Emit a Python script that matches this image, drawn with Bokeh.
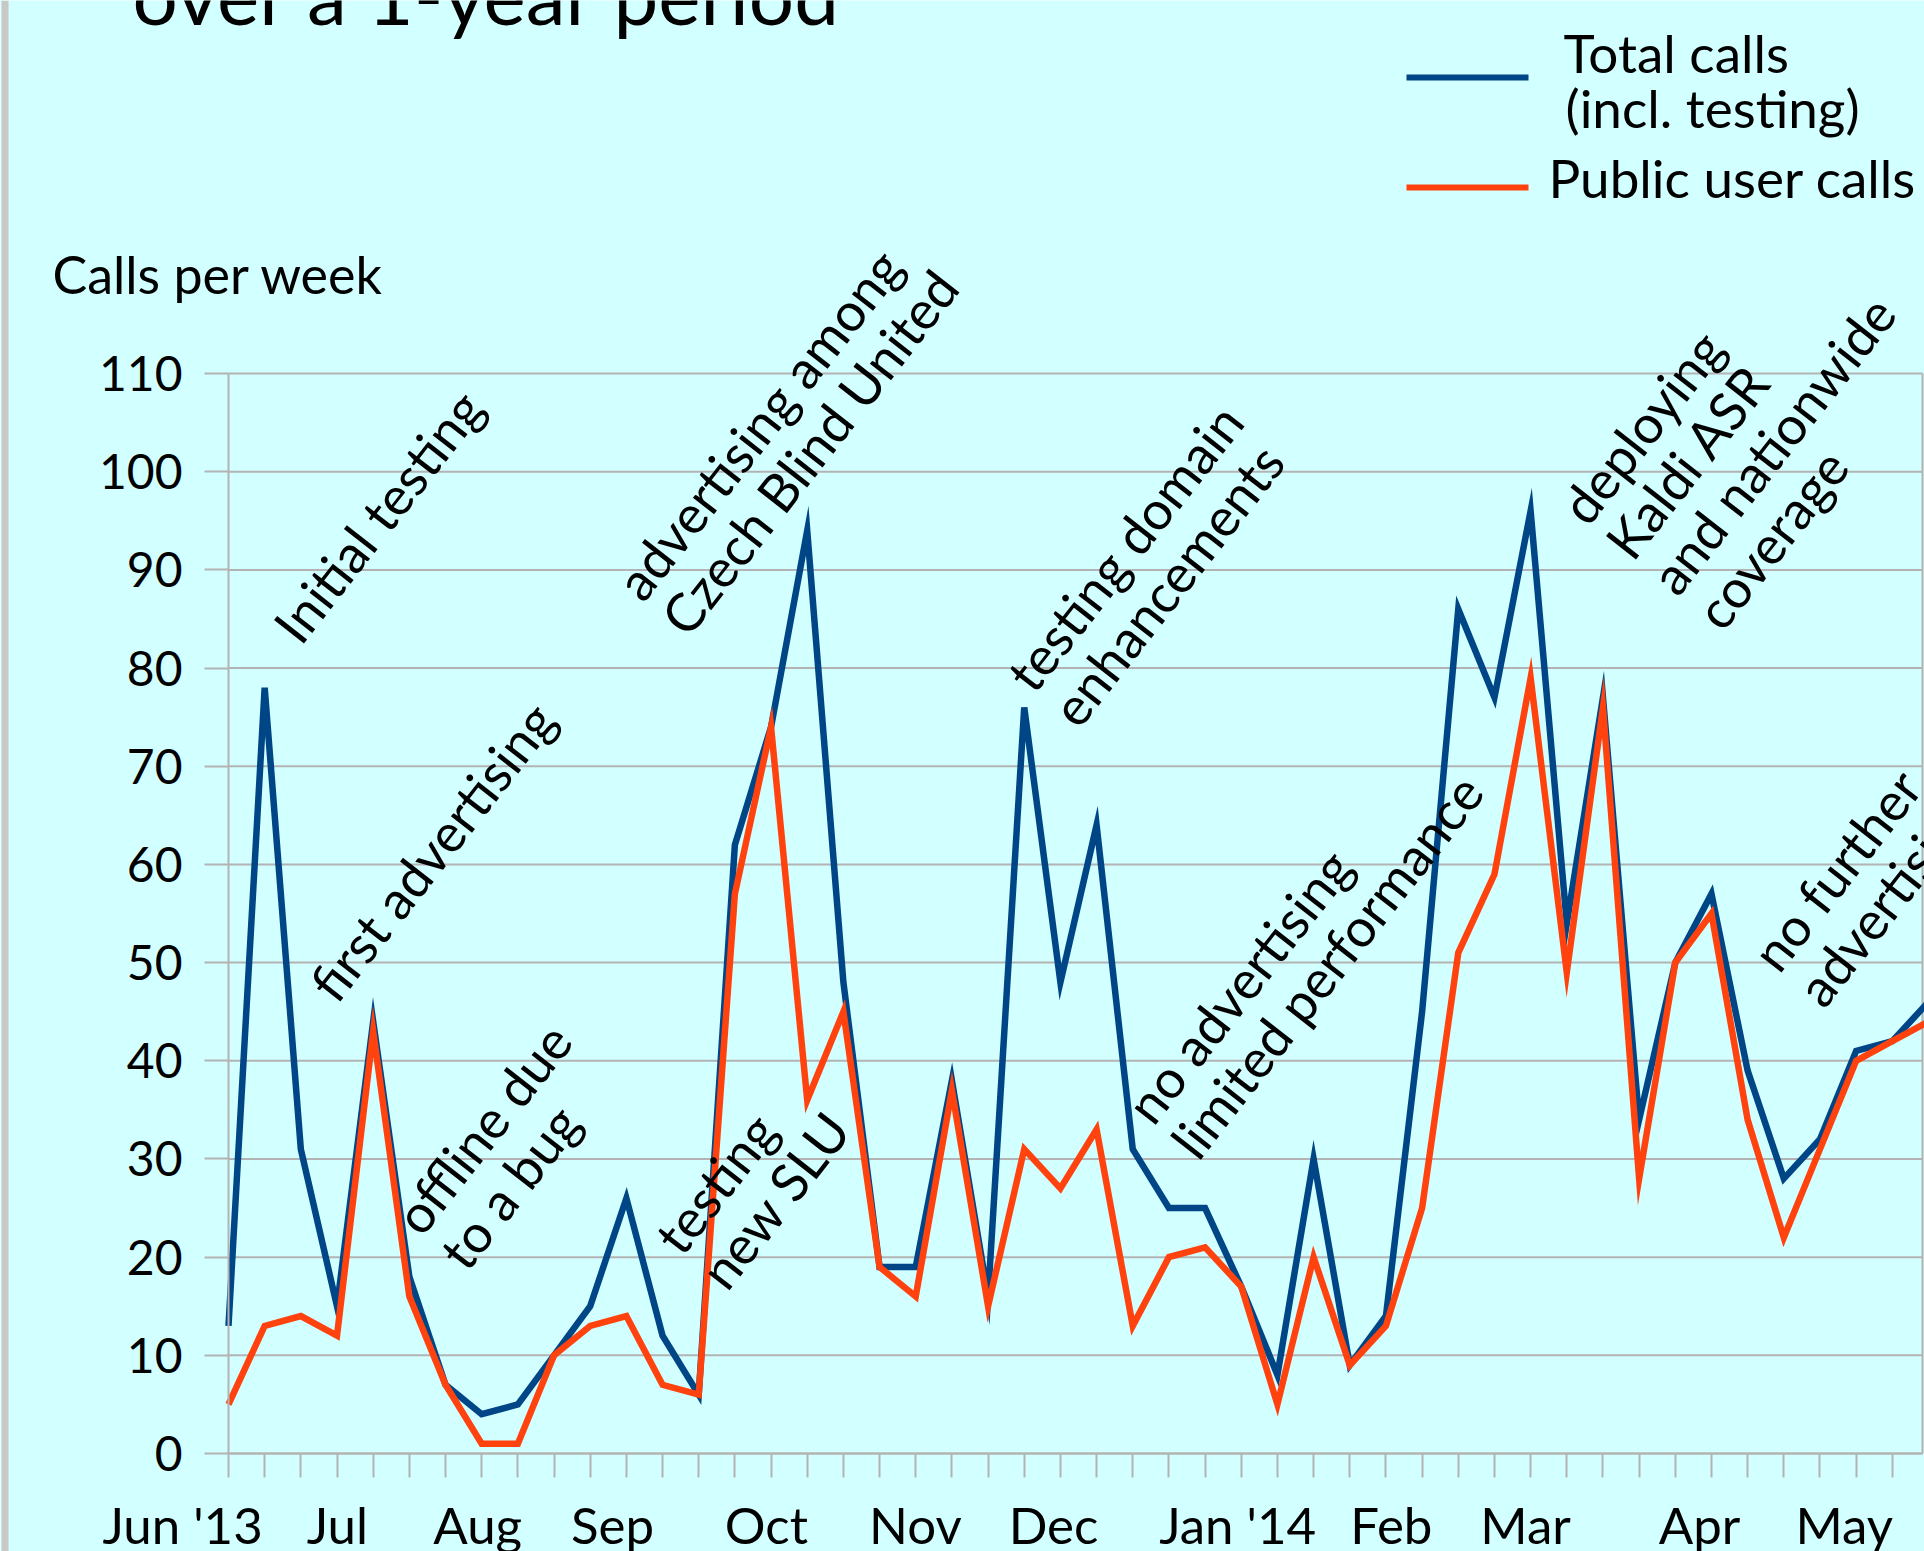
import math
from bokeh.plotting import figure
from bokeh.models import FixedTicker, Label, LinearAxis, BoxAnnotation
from bokeh.embed import file_html
from bokeh.resources import INLINE

# ---------------- data ----------------
weeks = list(range(48))
total_calls = [13, 78, 31, 15, 44, 18, 7, 4, 5, 10, 15, 26, 12, 6, 62, 74, 94, 48, 19, 19,
               38, 16, 76, 48, 64, 31, 25, 25, 17, 8, 30, 9, 14, 45, 86, 77, 96, 54, 77, 34,
               50, 57, 39, 28, 32, 41, 42, 46]
public_calls = [5, 13, 14, 12, 43, 16, 7, 1, 1, 10, 13, 14, 7, 6, 57, 74, 36, 45, 19, 16,
                37, 15, 31, 27, 33, 13, 20, 21, 17, 5, 20, 9, 13, 25, 51, 59, 79, 49, 76, 28,
                50, 55, 34, 22, 31, 40, 42, 44]
month_labels = ["Jun '13", "Jul", "Aug", "Sep", "Oct", "Nov", "Dec", "Jan '14", "Feb", "Mar", "Apr", "May"]
month_pos = [-1.27, 3.01, 6.89, 10.62, 14.87, 18.99, 22.81, 27.9, 32.15, 35.86, 40.67, 44.67]
y_ticks = list(range(0, 111, 10))
series_names = ["Total calls\n(incl. testing)", "Public user calls"]
events = ["Initial testing", "first advertising", "offline due\nto a bug",
          "advertising among\nCzech Blind United", "testing\nnew SLU",
          "testing domain\nenhancements", "no advertising\nlimited performance",
          "deploying\nKaldi ASR\nand nationwide\ncoverage", "no further\nadvertising"]
event_x = [1.56, 2.55, 6.15, 12.27, 13.34, 23.07, 26.37, 40.87, 43.67]
event_y = [83.4, 46.9, 19.6, 84.2, 17.6, 74.9, 30.9, 84.8, 46.4]

# ---------------- layout / style ----------------
BG = "#d2ffff"
GRID = "#b3b3b3"
BLUE = "#004586"
ORANGE = "#ff420e"
FONT = "Lato"

W, H = 1924, 1551
X0, Y0 = 228.0, 1453.0       # pixel position of (week 0, 0 calls)
PX_X, PX_Y = 36.17, 9.818    # pixels per week, pixels per call
X_END = (1922 - X0) / PX_X   # right border of the plot area
BASE_FIX = 0.4               # bokeh draws "alphabetic" labels ~0.4em low


def wx(px):
    return (px - X0) / PX_X


def vy(py):
    return (Y0 - py) / PX_Y


def text_at(px, baseline_py, txt, size, **kw):
    return Label(x=wx(px), y=vy(baseline_py - BASE_FIX * size), text=txt, text_font=FONT,
                 text_font_size=f"{size}px", text_baseline="alphabetic",
                 text_color="black", **kw)


p = figure(width=W, height=H, x_range=(wx(0), wx(W)), y_range=(vy(H), vy(0)),
           output_backend="svg", toolbar_location=None,
           min_border=0, min_border_left=0, min_border_right=0, min_border_top=0, min_border_bottom=0,
           background_fill_color=BG, border_fill_color=BG, outline_line_color=None)
p.xgrid.visible = False
p.ygrid.visible = False

# horizontal grid lines + right border of plot area
n = len(y_ticks)
p.segment(x0=[0] * n, y0=y_ticks, x1=[X_END] * n, y1=y_ticks, line_color=GRID, line_width=2)
p.segment(x0=[X_END], y0=[0], x1=[X_END], y1=[max(y_ticks)], line_color=GRID, line_width=2)

# y axis at x = 0
ya = p.yaxis[0]
ya.fixed_location = 0
ya.bounds = (0, max(y_ticks))
ya.ticker = FixedTicker(ticks=y_ticks)
ya.axis_line_color = GRID
ya.axis_line_width = 2
ya.major_tick_line_color = GRID
ya.major_tick_line_width = 2
ya.major_tick_out = 24
ya.major_tick_in = 0
ya.minor_tick_line_color = None
ya.major_label_standoff = 22
ya.major_label_text_font = FONT
ya.major_label_text_font_size = "48px"
ya.major_label_text_color = "black"

# x axis (weekly ticks) at y = 0
xa = p.xaxis[0]
xa.fixed_location = 0
xa.bounds = (0, X_END)
xa.ticker = FixedTicker(ticks=weeks)
xa.major_label_overrides = {w: "" for w in weeks}
xa.axis_line_color = GRID
xa.axis_line_width = 2
xa.major_tick_line_color = GRID
xa.major_tick_line_width = 2
xa.major_tick_out = 24
xa.major_tick_in = 0
xa.minor_tick_line_color = None

# month labels as a second x axis
ma = LinearAxis(fixed_location=0, ticker=FixedTicker(ticks=month_pos),
                major_label_overrides={pos: name for pos, name in zip(month_pos, month_labels)},
                axis_line_color=None, major_tick_line_color=None, minor_tick_line_color=None,
                major_tick_out=0, major_tick_in=0, major_label_standoff=40,
                major_label_text_font=FONT, major_label_text_font_size="51px",
                major_label_text_color="black")
p.add_layout(ma, "below")

# data lines
p.line(weeks, total_calls, line_color=BLUE, line_width=6.5, line_join="miter")
p.line(weeks, public_calls, line_color=ORANGE, line_width=6.5, line_join="miter")

# grey page edge on the left
p.add_layout(BoxAnnotation(left=wx(1), right=wx(8), fill_color="#c8c8c8", fill_alpha=1.0,
                           line_color=None))

# y axis caption and (cut-off) title
p.add_layout(text_at(52, 294, "Calls per week", 52))
p.add_layout(text_at(132, 25, "over a 1-year period", 80))

# legend
for ly, col in [(vy(77), BLUE), (vy(187), ORANGE)]:
    p.segment(x0=[wx(1406)], y0=[ly], x1=[wx(1528)], y1=[ly], line_color=col, line_width=6)
first, second = series_names[0].split("\n")
for lx, ly, t in [(1563, 73, first), (1565, 128, second), (1548, 198, series_names[1])]:
    p.add_layout(text_at(lx, ly, t, 53))

# rotated event annotations
ANG = 52.0
STEP = 57.0
dxw = -STEP * math.sin(math.radians(ANG)) / PX_X
dyv = STEP * math.cos(math.radians(ANG)) / PX_Y
for txt, ex, ey in zip(events, event_x, event_y):
    lines = txt.split("\n")
    for k, line in enumerate(lines):
        back = len(lines) - 1 - k
        p.add_layout(Label(x=ex + back * dxw, y=ey + back * dyv, text=line,
                           angle=math.radians(ANG), text_align="left",
                           text_baseline="alphabetic", text_font=FONT,
                           text_font_size="53px", text_color="black"))

open("out.html", "w").write(file_html(p, INLINE, "chart"))
